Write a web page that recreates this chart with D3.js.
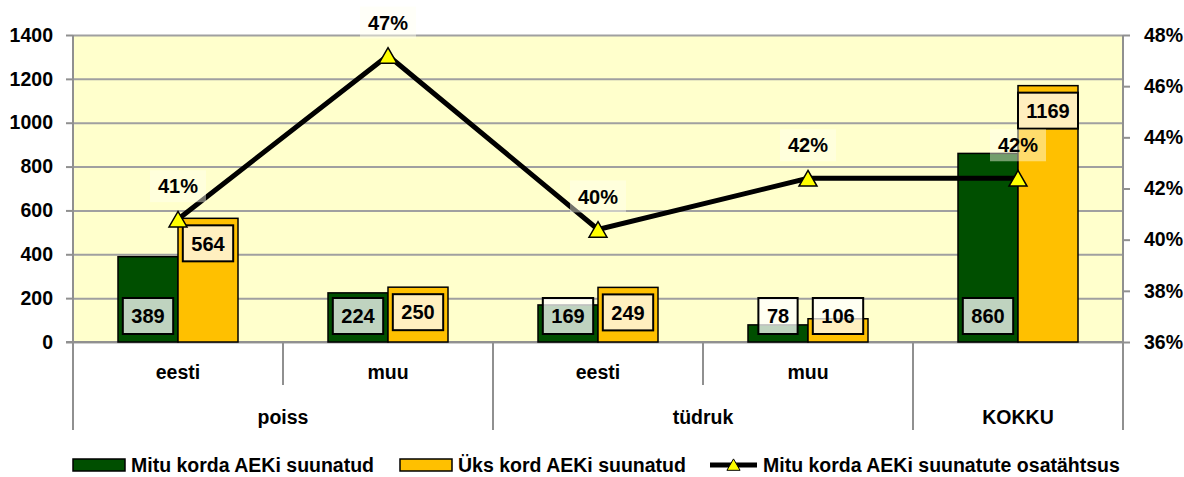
<!DOCTYPE html>
<html>
<head>
<meta charset="utf-8">
<script src="https://cdn.jsdelivr.net/npm/d3@7"></script>
<style>
  html, body { margin: 0; padding: 0; background: #fff; }
  svg { display: block; font-family: "Liberation Sans", Arial, sans-serif; font-weight: bold; }
</style>
</head>
<body>
<svg id="chart"></svg>
<script>
const width = 1184;
const height = 477;
const margin = { top: 35, right: 61, bottom: 135, left: 73 };
const innerWidth = width - margin.left - margin.right;
const innerHeight = height - margin.top - margin.bottom;

// data
const groups = ["poiss", "poiss", "tüdruk", "tüdruk", "KOKKU"];
const subCats = ["eesti", "muu", "eesti", "muu", ""];
const mitu = [389, 224, 169, 78, 860];
const yks = [564, 250, 249, 106, 1169];
const share = [40.8, 47.2, 40.4, 42.4, 42.4];
const leftTicks = [0, 200, 400, 600, 800, 1000, 1200, 1400];
const rightTicks = [36, 38, 40, 42, 44, 46, 48];
const seriesNames = ["Mitu korda AEKi suunatud", "Üks kord AEKi suunatud", "Mitu korda AEKi suunatute osatähtsus"];

const green = "#004f00";
const orange = "#ffc000";
const fontSize = 19.5;

const rows = groups.map((g, i) => ({ i, group: g, sub: subCats[i], mitu: mitu[i], yks: yks[i], share: share[i] }));

const svg = d3.select("#chart").attr("width", width).attr("height", height);
const root = svg.append("g").attr("transform", `translate(${margin.left},${margin.top})`);

const x0 = d3.scaleBand().domain(rows.map((d) => d.i)).range([0, innerWidth]).paddingInner(0).paddingOuter(0);
const x1 = d3.scaleBand().domain(["mitu", "yks"]).range([0, x0.bandwidth()]).paddingInner(0).paddingOuter(0.75);
const y = d3.scaleLinear().domain([0, 1400]).range([innerHeight, 0]);
const y2 = d3.scaleLinear().domain([36, 48]).range([innerHeight, 0]);

// plot background
root.append("rect").attr("width", innerWidth).attr("height", innerHeight).attr("fill", "#ffffcc");

// grid
root
  .append("g")
  .call(d3.axisLeft(y).tickValues(leftTicks).tickSize(-innerWidth).tickFormat(""))
  .call((g) => g.selectAll("line").attr("stroke", "#a0a0a0").attr("stroke-width", 2))
  .call((g) => g.select(".domain").remove());

// left axis
root
  .append("g")
  .call(d3.axisLeft(y).tickValues(leftTicks).tickSize(7).tickPadding(13).tickFormat(d3.format("d")))
  .call((g) => g.selectAll("line,path").attr("stroke", "#909090").attr("stroke-width", 2))
  .call((g) => g.select(".domain").attr("d", `M0,${innerHeight}V0`))
  .call((g) => g.selectAll("text").attr("fill", "#000").style("font-size", fontSize + "px").style("font-weight", "bold").style("font-family", "inherit"));

// right axis
root
  .append("g")
  .attr("transform", `translate(${innerWidth},0)`)
  .call(d3.axisRight(y2).tickValues(rightTicks).tickSize(7).tickPadding(14).tickFormat((d) => d + "%"))
  .call((g) => g.selectAll("line,path").attr("stroke", "#909090").attr("stroke-width", 2))
  .call((g) => g.select(".domain").attr("d", `M0,${innerHeight + 8}V0`))
  .call((g) => g.selectAll("text").attr("fill", "#000").style("font-size", fontSize + "px").style("font-weight", "bold").style("font-family", "inherit"));

// category axis (two levels)
const catAxis = root.append("g").attr("transform", `translate(0,${innerHeight})`);
catAxis.append("line").attr("x1", -7).attr("x2", innerWidth).attr("stroke", "#909090").attr("stroke-width", 2);

const groupSpans = d3.groups(rows, (d) => d.group).map(([name, list]) => ({
  name,
  x0: x0(list[0].i),
  x1: x0(list[list.length - 1].i) + x0.bandwidth(),
  list
}));

groupSpans.forEach((gs) => {
  catAxis.append("line").attr("x1", gs.x0).attr("x2", gs.x0).attr("y1", 0).attr("y2", 88).attr("stroke", "#909090").attr("stroke-width", 2);
  gs.list.slice(1).forEach((d) => {
    catAxis.append("line").attr("x1", x0(d.i)).attr("x2", x0(d.i)).attr("y1", 0).attr("y2", 43).attr("stroke", "#909090").attr("stroke-width", 2);
  });
  catAxis
    .append("text")
    .attr("x", (gs.x0 + gs.x1) / 2)
    .attr("y", 75)
    .attr("dy", "0.35em")
    .attr("text-anchor", "middle")
    .style("font-size", fontSize + "px")
    .text(gs.name);
});
catAxis.append("line").attr("x1", innerWidth).attr("x2", innerWidth).attr("y1", 0).attr("y2", 88).attr("stroke", "#909090").attr("stroke-width", 2);

catAxis
  .selectAll("text.sub")
  .data(rows.filter((d) => d.sub))
  .join("text")
  .attr("class", "sub")
  .attr("x", (d) => x0(d.i) + x0.bandwidth() / 2)
  .attr("y", 30)
  .attr("dy", "0.35em")
  .attr("text-anchor", "middle")
  .style("font-size", fontSize + "px")
  .text((d) => d.sub);

// bars
const barGroups = root
  .selectAll("g.cat")
  .data(rows)
  .join("g")
  .attr("class", "cat")
  .attr("transform", (d) => `translate(${x0(d.i)},0)`);

barGroups
  .append("rect")
  .attr("x", x1("mitu"))
  .attr("y", (d) => y(d.mitu))
  .attr("width", x1.bandwidth())
  .attr("height", (d) => innerHeight - y(d.mitu))
  .attr("fill", green)
  .attr("stroke", "#000")
  .attr("stroke-width", 1.5);

barGroups
  .append("rect")
  .attr("x", x1("yks"))
  .attr("y", (d) => y(d.yks))
  .attr("width", x1.bandwidth())
  .attr("height", (d) => innerHeight - y(d.yks))
  .attr("fill", orange)
  .attr("stroke", "#000")
  .attr("stroke-width", 1.5);

// value labels with boxes
const boxH = 36;
function valueLabel(g, cx, topY, value) {
  const lab = g.append("g");
  const box = lab.append("rect");
  const t = lab
    .append("text")
    .attr("x", cx)
    .attr("y", topY + boxH / 2)
    .attr("dy", "0.36em")
    .attr("text-anchor", "middle")
    .style("font-size", "20px")
    .text(value);
  const w = Math.min(t.node().getComputedTextLength() + 17, 60);
  box
    .attr("x", cx - w / 2)
    .attr("y", topY)
    .attr("width", w)
    .attr("height", boxH)
    .attr("fill", "rgba(255,255,255,0.75)")
    .attr("stroke", "#000")
    .attr("stroke-width", 2);
}

barGroups.each(function (d) {
  const g = d3.select(this);
  valueLabel(g, x1("mitu") + x1.bandwidth() / 2, innerHeight - 8 - boxH, d.mitu);
  const top = Math.min(y(d.yks) + 7, innerHeight - 8 - boxH);
  valueLabel(g, x1("yks") + x1.bandwidth() / 2, top, d.yks);
});

// share line
const cx = (d) => x0(d.i) + x0.bandwidth() / 2;
const line = d3.line().x(cx).y((d) => y2(d.share));

root.append("path").datum(rows).attr("d", line).attr("fill", "none").attr("stroke", "#000").attr("stroke-width", 5).attr("stroke-linejoin", "miter");

// triangle centred on its bounding box, like the spreadsheet marker
const triSize = 140;
const triOff = Math.sqrt(triSize / (Math.sqrt(3) * 3)) / 2;
const tri = d3.symbol().type(d3.symbolTriangle).size(triSize);
root
  .selectAll("path.marker")
  .data(rows)
  .join("path")
  .attr("class", "marker")
  .attr("d", tri)
  .attr("transform", (d) => `translate(${cx(d)},${y2(d.share) + triOff})`)
  .attr("fill", "#ffff00")
  .attr("stroke", "#000")
  .attr("stroke-width", 1.5);

// percent labels
const pctLabels = root.selectAll("g.pct").data(rows).join("g").attr("class", "pct");
pctLabels
  .append("rect")
  .attr("x", (d) => cx(d) - 28)
  .attr("y", (d) => y2(d.share) - 49)
  .attr("width", 56)
  .attr("height", 32)
  .attr("fill", "rgba(255,255,240,0.45)");
pctLabels
  .append("text")
  .attr("x", (d) => cx(d))
  .attr("y", (d) => y2(d.share) - 33)
  .attr("dy", "0.36em")
  .attr("text-anchor", "middle")
  .style("font-size", "20px")
  .text((d) => Math.round(d.share) + "%");

// legend
const legend = svg.append("g").attr("transform", `translate(0,465)`);
const legendX = [73, 400, 710];
seriesNames.forEach((name, k) => {
  const item = legend.append("g").attr("transform", `translate(${legendX[k]},0)`);
  let symW;
  if (k < 2) {
    symW = 52;
    item
      .append("rect")
      .attr("x", 0)
      .attr("y", -6)
      .attr("width", symW)
      .attr("height", 12)
      .attr("fill", k === 0 ? green : orange)
      .attr("stroke", "#000")
      .attr("stroke-width", 1.5);
  } else {
    symW = 47;
    item.append("line").attr("x1", 0).attr("x2", symW).attr("stroke", "#000").attr("stroke-width", 5);
    item
      .append("path")
      .attr("d", d3.symbol().type(d3.symbolTriangle).size(75))
      .attr("transform", `translate(${symW / 2},1.5)`)
      .attr("fill", "#ffff00")
      .attr("stroke", "#000")
      .attr("stroke-width", 1);
  }
  item
    .append("text")
    .attr("x", symW + 6)
    .attr("dy", "0.36em")
    .style("font-size", fontSize + "px")
    .text(name);
});
</script>
</body>
</html>
